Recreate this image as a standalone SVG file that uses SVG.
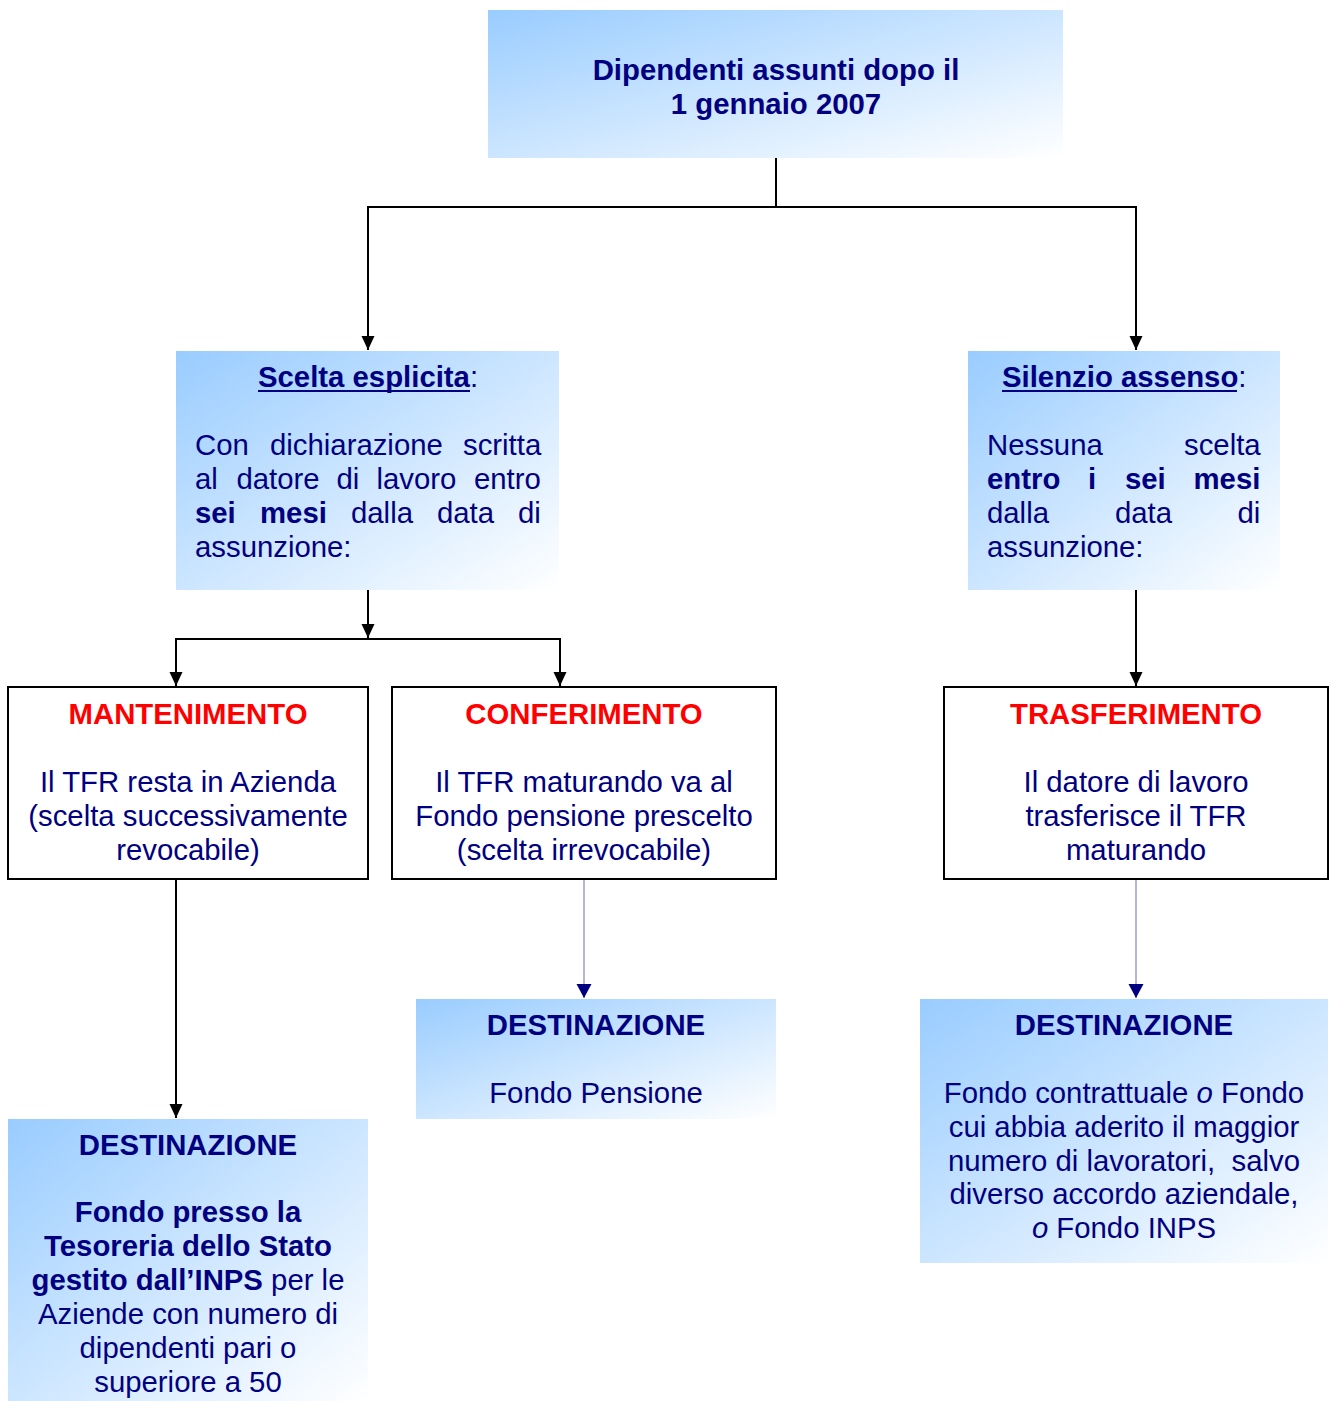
<svg xmlns="http://www.w3.org/2000/svg" width="1330" height="1401" viewBox="0 0 1330 1401">
<style>
text{font-family:"Liberation Sans",Arial,sans-serif;font-size:29.33px;fill:#000080}
.b{font-weight:bold}
.red{fill:#FF0000;font-weight:bold}
.c{text-anchor:middle}
.grad{fill:url(#g)}
.white{fill:#FFFFFF;stroke:#000000;stroke-width:2}
.conn{fill:none;stroke:#000000;stroke-width:2}
.thin{fill:none;stroke:#9C9CCC;stroke-width:1.5}
.ul{stroke:#000080;stroke-width:2}
</style>
<defs>
<linearGradient id="g" x1="0" y1="0" x2="1" y2="1">
<stop offset="0" stop-color="#99CCFF"/>
<stop offset="1" stop-color="#FFFFFF"/>
</linearGradient>
<marker id="ab" markerUnits="userSpaceOnUse" markerWidth="16" markerHeight="16" viewBox="0 -8 16 16" refX="14" refY="0" orient="auto">
<path d="M0,-6.5 L14,0 L0,6.5 z" fill="#000000"/>
</marker>
<marker id="an" markerUnits="userSpaceOnUse" markerWidth="16" markerHeight="16" viewBox="0 -8 16 16" refX="14" refY="0" orient="auto">
<path d="M0,-7.5 L14,0 L0,7.5 z" fill="#000080"/>
</marker>
</defs>
<rect width="1330" height="1401" fill="#FFFFFF"/>

<g id="connectors">
<path class="conn" d="M776,158 V207 H368 V350" marker-end="url(#ab)"/>
<path class="conn" d="M776,207 H1136 V350" marker-end="url(#ab)"/>
<path class="conn" d="M368,590 V638" marker-end="url(#ab)"/>
<path class="conn" d="M368,639 H176 V686" marker-end="url(#ab)"/>
<path class="conn" d="M368,639 H560 V686" marker-end="url(#ab)"/>
<path class="conn" d="M1136,590 V686" marker-end="url(#ab)"/>
<path class="conn" d="M176,879 V1118" marker-end="url(#ab)"/>
<path class="thin" d="M584,879 V998" marker-end="url(#an)"/>
<path class="thin" d="M1136,879 V998" marker-end="url(#an)"/>
</g>

<g id="top">
<rect class="grad" x="488" y="10" width="575" height="148"/>
<text class="b c" x="776" y="80">Dipendenti assunti dopo il</text>
<text class="b c" x="776" y="114">1 gennaio 2007</text>
</g>

<g id="scelta">
<rect class="grad" x="176" y="351" width="383" height="239"/>
<text x="258" y="387"><tspan class="b">Scelta esplicita</tspan>:</text>
<line class="ul" x1="258" y1="391" x2="470" y2="391"/>
<text y="455"><tspan x="195">Con</tspan><tspan x="270">dichiarazione</tspan><tspan x="463">scritta</tspan></text>
<text y="489"><tspan x="195">al</tspan><tspan x="236.5">datore</tspan><tspan x="336.5">di</tspan><tspan x="376.5">lavoro</tspan><tspan x="474">entro</tspan></text>
<text y="523"><tspan x="195" class="b">sei</tspan><tspan x="260" class="b">mesi</tspan><tspan x="351">dalla</tspan><tspan x="437">data</tspan><tspan x="518">di</tspan></text>
<text x="195" y="557">assunzione:</text>
</g>

<g id="silenzio">
<rect class="grad" x="968" y="351" width="312" height="239"/>
<text x="1002" y="387"><tspan class="b">Silenzio assenso</tspan>:</text>
<line class="ul" x1="1002" y1="391" x2="1237" y2="391"/>
<text y="455"><tspan x="987">Nessuna</tspan><tspan x="1184">scelta</tspan></text>
<text y="489" class="b"><tspan x="987">entro</tspan><tspan x="1088">i</tspan><tspan x="1125">sei</tspan><tspan x="1193.5">mesi</tspan></text>
<text y="523"><tspan x="987">dalla</tspan><tspan x="1115">data</tspan><tspan x="1237.5">di</tspan></text>
<text x="987" y="557">assunzione:</text>
</g>

<g id="mantenimento">
<rect class="white" x="8" y="687" width="360" height="192"/>
<text class="red c" x="188" y="724">MANTENIMENTO</text>
<text class="c" x="188" y="792">Il TFR resta in Azienda</text>
<text class="c" x="188" y="826">(scelta successivamente</text>
<text class="c" x="188" y="860">revocabile)</text>
</g>

<g id="conferimento">
<rect class="white" x="392" y="687" width="384" height="192"/>
<text class="red c" x="584" y="724">CONFERIMENTO</text>
<text class="c" x="584" y="792">Il TFR maturando va al</text>
<text class="c" x="584" y="826">Fondo pensione prescelto</text>
<text class="c" x="584" y="860">(scelta irrevocabile)</text>
</g>

<g id="trasferimento">
<rect class="white" x="944" y="687" width="384" height="192"/>
<text class="red c" x="1136" y="724">TRASFERIMENTO</text>
<text class="c" x="1136" y="792">Il datore di lavoro</text>
<text class="c" x="1136" y="826">trasferisce il TFR</text>
<text class="c" x="1136" y="860">maturando</text>
</g>

<g id="dest-fondo-pensione">
<rect class="grad" x="416" y="999" width="360" height="120"/>
<text class="b c" x="596" y="1035">DESTINAZIONE</text>
<text class="c" x="596" y="1103">Fondo Pensione</text>
</g>

<g id="dest-trasferimento">
<rect class="grad" x="920" y="999" width="408" height="264"/>
<text class="b c" x="1124" y="1035">DESTINAZIONE</text>
<text class="c" x="1124" y="1103">Fondo contrattuale <tspan font-style="italic">o</tspan> Fondo</text>
<text class="c" x="1124" y="1137">cui abbia aderito il maggior</text>
<text class="c" x="1124" y="1171" xml:space="preserve">numero di lavoratori,  salvo</text>
<text class="c" x="1124" y="1204">diverso accordo aziendale,</text>
<text class="c" x="1124" y="1238"><tspan font-style="italic">o</tspan> Fondo INPS</text>
</g>

<g id="dest-mantenimento">
<rect class="grad" x="8" y="1119" width="360" height="282"/>
<text class="b c" x="188" y="1155">DESTINAZIONE</text>
<text class="b c" x="188" y="1222">Fondo presso la</text>
<text class="b c" x="188" y="1256">Tesoreria dello Stato</text>
<text class="c" x="188" y="1290"><tspan class="b">gestito dall’INPS</tspan> per le</text>
<text class="c" x="188" y="1324">Aziende con numero di</text>
<text class="c" x="188" y="1358">dipendenti pari o</text>
<text class="c" x="188" y="1392">superiore a 50</text>
</g>
</svg>
